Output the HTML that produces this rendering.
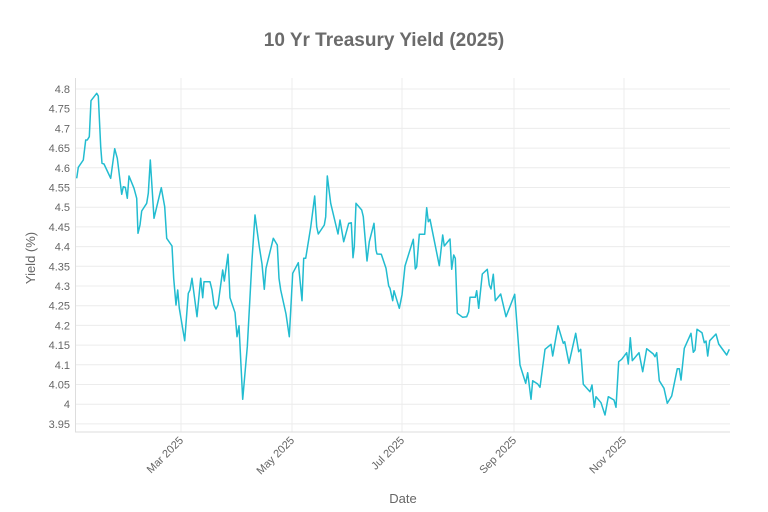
<!DOCTYPE html>
<html><head><meta charset="utf-8"><style>
body{margin:0;background:#fff;}
svg{display:block;font-family:"Liberation Sans",sans-serif;}
</style></head><body>
<svg width="768" height="512" viewBox="0 0 768 512">
<rect width="768" height="512" fill="#fff"/>
<text x="384" y="46" text-anchor="middle" font-size="19" font-weight="bold" fill="#6b6b6b">10 Yr Treasury Yield (2025)</text>
<g stroke="#ececec" stroke-width="1">
<line x1="75" x2="730" y1="89" y2="89"/><line x1="75" x2="730" y1="108.7" y2="108.7"/><line x1="75" x2="730" y1="128.4" y2="128.4"/><line x1="75" x2="730" y1="148.1" y2="148.1"/><line x1="75" x2="730" y1="167.8" y2="167.8"/><line x1="75" x2="730" y1="187.5" y2="187.5"/><line x1="75" x2="730" y1="207.2" y2="207.2"/><line x1="75" x2="730" y1="226.9" y2="226.9"/><line x1="75" x2="730" y1="246.6" y2="246.6"/><line x1="75" x2="730" y1="266.3" y2="266.3"/><line x1="75" x2="730" y1="286" y2="286"/><line x1="75" x2="730" y1="305.7" y2="305.7"/><line x1="75" x2="730" y1="325.4" y2="325.4"/><line x1="75" x2="730" y1="345.1" y2="345.1"/><line x1="75" x2="730" y1="364.8" y2="364.8"/><line x1="75" x2="730" y1="384.5" y2="384.5"/><line x1="75" x2="730" y1="404.2" y2="404.2"/><line x1="75" x2="730" y1="423.9" y2="423.9"/>
<line x1="181" x2="181" y1="78" y2="432"/><line x1="292" x2="292" y1="78" y2="432"/><line x1="402" x2="402" y1="78" y2="432"/><line x1="514" x2="514" y1="78" y2="432"/><line x1="624" x2="624" y1="78" y2="432"/>
</g>
<line x1="75" x2="730" y1="432" y2="432" stroke="#ddd"/>
<line x1="75.5" x2="75.5" y1="78" y2="432" stroke="#ddd"/>
<g font-size="11" fill="#666" text-anchor="end">
<text x="70" y="93">4.8</text><text x="70" y="112.7">4.75</text><text x="70" y="132.4">4.7</text><text x="70" y="152.1">4.65</text><text x="70" y="171.8">4.6</text><text x="70" y="191.5">4.55</text><text x="70" y="211.2">4.5</text><text x="70" y="230.9">4.45</text><text x="70" y="250.6">4.4</text><text x="70" y="270.3">4.35</text><text x="70" y="290">4.3</text><text x="70" y="309.7">4.25</text><text x="70" y="329.4">4.2</text><text x="70" y="349.1">4.15</text><text x="70" y="368.8">4.1</text><text x="70" y="388.5">4.05</text><text x="70" y="408.2">4</text><text x="70" y="427.9">3.95</text>
<text transform="translate(184,441) rotate(-45)">Mar 2025</text>
<text transform="translate(295,441) rotate(-45)">May 2025</text>
<text transform="translate(405,441) rotate(-45)">Jul 2025</text>
<text transform="translate(517,441) rotate(-45)">Sep 2025</text>
<text transform="translate(627,441) rotate(-45)">Nov 2025</text>
</g>
<text x="403" y="503" text-anchor="middle" font-size="13" fill="#666">Date</text>
<text transform="translate(35,258) rotate(-90)" text-anchor="middle" font-size="13" fill="#666">Yield (%)</text>
<polyline fill="none" stroke="#22bcd0" stroke-width="1.5" stroke-linejoin="round" points="
76.7,178.3 78.3,167.3 83.3,160 85.7,140 87.3,140 89.3,136.7 91,100.7 96.7,93.3 98.3,96 100.7,146.7 102,163.3 104,164 110.7,178.3 114.7,148.7 117.3,158.3 121.7,194.3 123.3,186.7 125.3,187.3 127.3,198.3 129,176 134,188.3 136.7,198.3 138,233.3 140,225 141.7,211 146.7,203.3 148.3,193.3 150.3,160 154,218.3 161.3,187.7 164.7,206.7 166.7,238.3 172,246 173.7,278.3 176,305 177.7,290 179.3,308.3 184.7,340.7 188.3,293.3 190,290 192,278.3 197,316.7 200.7,278.3 202.7,297.7 204,281.7 210,281.7 212,290 214,305 216,309 218,305 222.7,270 224.3,281 228,254.3 230,297.7 235,312.7 237,336.7 239,325.7 242.7,399.3 247.3,346.7 252,260 255,215 259.3,246.7 262,264 264.3,289.3 266,268.3 273.3,238.3 277.3,245 279,278.3 280.7,290 286,314 289.3,336.7 292.7,273.3 298.3,262.7 302,300.7 303.7,258.3 305.7,258.3 310.7,227.3 314.7,196 316.7,226.7 318.3,234 324.3,225 325.7,216.7 327.3,176 330.7,203.3 338,234 340,220 343.7,241.7 348.7,223.3 351.3,222.7 353,257.7 354.3,246.7 356,203.3 361.7,210 363.3,216.7 367,261 369.3,241.7 374,223.3 376,250 377,254 381.3,254.3 386,268.3 388.7,286 390,288.3 392.7,300.7 394,290.7 399.3,308.3 402,295 405,266 413.3,239.3 415.3,269 416.7,266.7 419.3,234.3 424.7,234.3 426.7,207.7 428.3,221.7 430,219.3 439.3,265.7 442.7,235 444.3,246 450,239 451.7,269.3 453.7,255 455.3,258.3 457.3,313.3 462.7,317.3 466.7,316.7 468.7,311.7 470,297.3 475.3,297.3 476.7,290.7 478.7,308.3 482.3,274 487.3,269.3 489.3,285 491,289 493.3,274.3 495.3,300.7 500.7,294 506,316.7 514.7,294.3 520,365 525.7,383.3 527.7,372.7 531,399.3 532.7,380.7 537.7,384 540,387.3 545,349.3 551,344.3 552.7,356 558,325.7 563.3,343.3 564.7,341.7 569,363.3 575.7,333.3 578.7,351.7 580.7,349.3 583.3,384.3 590,391.7 592,385 594.3,407.3 596,396.7 601,402.7 605,415 608.3,396.7 614,400 616,407.3 618.7,361.7 621.7,359.3 626.7,352.7 628.3,364 630.3,337.7 632.3,360.7 639,352.7 642.7,371.7 646.7,348.7 653.3,354 655,356.7 656.7,352.7 659.3,380.7 664,388.3 667.3,403.3 671.7,396 677.3,368.7 679.3,368.7 681,380 684.3,348.3 691,333.3 693.3,352.3 695,350 697,329.3 702,332.7 704.3,342.7 706,341 707.7,356 709.7,340.7 716,334 718.7,344 726.7,355 729.3,349.3"/>
</svg>
</body></html>
